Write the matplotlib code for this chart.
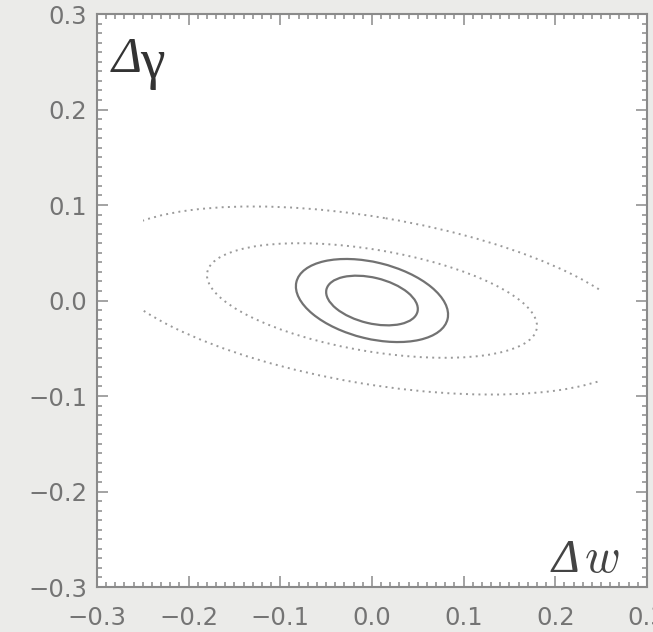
import numpy as np
import matplotlib
matplotlib.use("Agg")
import matplotlib.pyplot as plt
from matplotlib.patches import Ellipse, Rectangle
from matplotlib.ticker import MultipleLocator

# contour parameters: half extents in x and y, and correlation
solid_dx = [0.050, 0.083]
solid_dy = [0.026, 0.0435]
solid_rho = [-0.34, -0.34]

dotted_dx = [0.180, 0.295]
dotted_dy = [0.060, 0.0985]
dotted_rho = [-0.44, -0.44]
dotted_clip = 0.25  # outer dotted contour stops at |dw| = 0.25

ticks = [-0.3, -0.2, -0.1, 0.0, 0.1, 0.2, 0.3]
tick_labels = ["\u22120.3", "\u22120.2", "\u22120.1", "0.0", "0.1", "0.2", "0.3"]

plt.rcParams["mathtext.fontset"] = "cm"


def make_ellipse(dx, dy, rho, **kw):
    cov = np.array([[dx * dx, rho * dx * dy], [rho * dx * dy, dy * dy]])
    vals, vecs = np.linalg.eigh(cov)
    big = vecs[:, 1]
    angle = np.degrees(np.arctan2(big[1], big[0]))
    return Ellipse((0, 0), 2 * np.sqrt(vals[1]), 2 * np.sqrt(vals[0]),
                   angle=angle, fill=False, **kw)


fig = plt.figure(figsize=(6.53, 6.32), dpi=100)
fig.patch.set_facecolor("#ebebe9")
ax = fig.add_axes([0.1485, 0.0712, 0.8423, 0.9066])
ax.set_facecolor("white")

for dx, dy, rho in zip(solid_dx, solid_dy, solid_rho):
    ax.add_patch(make_ellipse(dx, dy, rho, edgecolor="#727272", linewidth=1.6))

for dx, dy, rho in zip(dotted_dx, dotted_dy, dotted_rho):
    e = make_ellipse(dx, dy, rho, edgecolor="#9a9a9a", linewidth=1.4,
                     linestyle=(0, (1, 2.2)))
    ax.add_patch(e)
    clip = Rectangle((-dotted_clip, -1), 2 * dotted_clip, 2, transform=ax.transData)
    e.set_clip_path(clip)

ax.set_xlim(-0.3, 0.3)
ax.set_ylim(-0.3, 0.3)
ax.set_xticks(ticks)
ax.set_xticklabels(tick_labels)
ax.set_yticks(ticks)
ax.set_yticklabels(tick_labels)
ax.xaxis.set_minor_locator(MultipleLocator(0.01))
ax.yaxis.set_minor_locator(MultipleLocator(0.01))

ax.tick_params(which="both", direction="in", top=True, right=True,
               color="#8a8a8a", width=1.1)
ax.tick_params(which="major", length=8, labelsize=17.5, labelcolor="#747474")
ax.tick_params(which="minor", length=3.8)
ax.tick_params(axis="x", pad=14)
ax.tick_params(axis="y", pad=7)
for s in ax.spines.values():
    s.set_color("#8a8a8a")
    s.set_linewidth(1.5)

# corner labels: italic delta, upright gamma, math-italic w
ax.text(0.027, 0.899, "\u0394", transform=ax.transAxes, fontsize=37,
        family="Liberation Serif", style="italic", va="baseline", ha="left",
        color="#333333")
ax.text(0.078, 0.889, "\u03b3", transform=ax.transAxes, fontsize=40,
        family="Liberation Serif", va="baseline", ha="left", color="#333333")
ax.text(0.826, 0.026, "\u0394", transform=ax.transAxes, fontsize=34,
        family="Liberation Serif", style="italic", va="baseline", ha="left",
        color="#444444")
ax.text(0.885, 0.026, r"$w$", transform=ax.transAxes, fontsize=35,
        va="baseline", ha="left", color="#444444")

fig.savefig("out.png", dpi=100, facecolor=fig.get_facecolor())
